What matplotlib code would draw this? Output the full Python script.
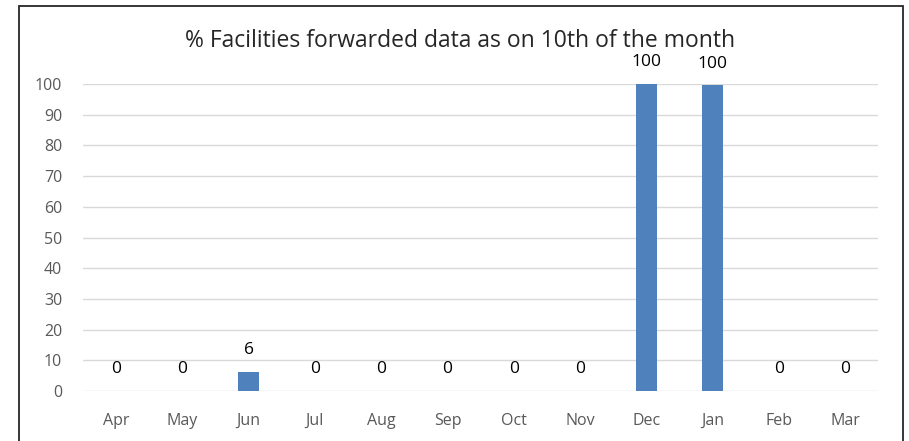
import numpy as np
import matplotlib.pyplot as plt
from matplotlib.patches import Rectangle

plt.rcParams['font.family'] = ['Open Sans', 'DejaVu Sans']

# data
months = ['Apr', 'May', 'Jun', 'Jul', 'Aug', 'Sep', 'Oct', 'Nov', 'Dec', 'Jan', 'Feb', 'Mar']
values = [0, 0, 6.2, 0, 0, 0, 0, 0, 100, 99.6, 0, 0]
labels = ['0', '0', '6', '0', '0', '0', '0', '0', '100', '100', '0', '0']

fig = plt.figure(figsize=(9.09, 4.41), dpi=100)
ax = fig.add_axes([0.0913, 0.1134, 0.8747, 0.6961])

x = np.arange(len(months))
bars = ax.bar(x, values, width=0.32, color='#4F81BD', zorder=3)

# value labels above each bar
for xi, v, lab in zip(x, values, labels):
    ax.annotate(lab, (xi, v), xytext=(0, 15.5), textcoords='offset points',
                ha='center', va='center', fontsize=12.5, color='black')

ax.set_xlim(-0.5, len(months) - 0.5)
ax.set_ylim(0, 100)
ax.set_yticks(range(0, 101, 10))
ax.set_xticks(x)
ax.set_xticklabels(months)
ax.tick_params(axis='both', length=0, labelsize=11.5, colors='#595959')
ax.tick_params(axis='x', pad=16)
ax.tick_params(axis='y', pad=15)
ax.grid(axis='y', color='#D9D9D9', linewidth=1, zorder=0)
for s in ax.spines.values():
    s.set_visible(False)

fig.text(0.506, 0.906, '% Facilities forwarded data as on 10th of the month',
         ha='center', va='center', fontsize=16.5, color='#262626')

# outer frame
fig.patches.append(Rectangle((19 / 909, -0.05), (903 - 19) / 909, 1 - 6 / 441 + 0.05,
                             transform=fig.transFigure, fill=False,
                             edgecolor='#262626', linewidth=1.3))

fig.savefig('out.png', dpi=100)
